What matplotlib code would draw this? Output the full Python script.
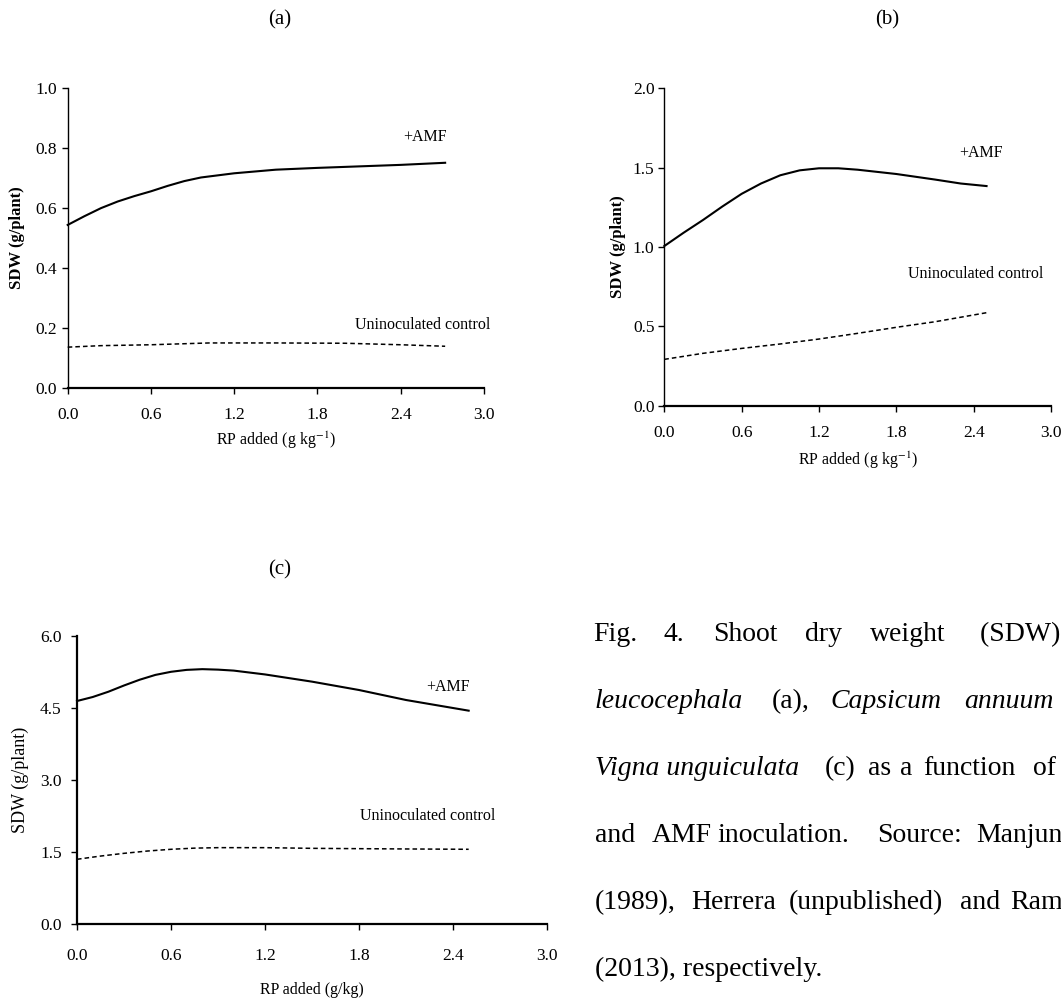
import matplotlib
matplotlib.use("Agg")
from matplotlib import pyplot as plt

plt.rcParams['font.family'] = ['Liberation Serif', 'DejaVu Serif']
plt.rcParams['mathtext.fontset'] = 'stix'

W, H = 1061, 1001

# panel (a) Leucaena leucocephala
a_x_amf = [0.0, 0.12, 0.24, 0.36, 0.48, 0.6, 0.72, 0.84, 0.96, 1.2, 1.5, 1.8, 2.1, 2.4, 2.72]
a_y_amf = [0.543, 0.572, 0.599, 0.621, 0.639, 0.655, 0.673, 0.689, 0.701, 0.715, 0.727, 0.733, 0.738, 0.743, 0.750]
a_x_ctl = [0.0, 0.24, 0.6, 1.02, 1.5, 2.0, 2.4, 2.72]
a_y_ctl = [0.136, 0.141, 0.144, 0.150, 0.150, 0.149, 0.144, 0.139]

# panel (b) Capsicum annuum
b_x_amf = [0.0, 0.15, 0.3, 0.45, 0.6, 0.75, 0.9, 1.05, 1.2, 1.35, 1.5, 1.8, 2.1, 2.3, 2.5]
b_y_amf = [1.006, 1.09, 1.17, 1.255, 1.335, 1.40, 1.452, 1.483, 1.496, 1.496, 1.487, 1.46, 1.425, 1.40, 1.384]
b_x_ctl = [0.0, 0.3, 0.6, 0.9, 1.2, 1.5, 1.8, 2.1, 2.5]
b_y_ctl = [0.292, 0.330, 0.361, 0.389, 0.420, 0.456, 0.494, 0.529, 0.586]

# panel (c) Vigna unguiculata
c_x_amf = [0.0, 0.1, 0.2, 0.3, 0.4, 0.5, 0.6, 0.7, 0.8, 0.9, 1.0, 1.2, 1.5, 1.8, 2.1, 2.5]
c_y_amf = [4.647, 4.73, 4.84, 4.97, 5.09, 5.19, 5.255, 5.295, 5.31, 5.30, 5.28, 5.20, 5.05, 4.876, 4.668, 4.446]
c_x_ctl = [0.0, 0.15, 0.3, 0.45, 0.6, 0.75, 0.9, 1.2, 1.5, 1.8, 2.1, 2.5]
c_y_ctl = [1.353, 1.42, 1.477, 1.525, 1.561, 1.585, 1.595, 1.595, 1.581, 1.574, 1.568, 1.561]

x_ticks = [0.0, 0.6, 1.2, 1.8, 2.4, 3.0]


def px_axes(fig, left, right, top, bottom):
    return fig.add_axes([left / W, 1 - bottom / H, (right - left) / W, (bottom - top) / H])


def style(ax, ymax, ystep, xlab, ylpad, xlpad, ylab_x, xlab_y, ybold):
    ax.set_xlim(0, 3.0)
    ax.set_ylim(0, ymax)
    ax.set_xticks(x_ticks)
    ax.set_xticklabels([f'{t:.1f}' for t in x_ticks])
    yt = [i * ystep for i in range(int(round(ymax / ystep)) + 1)]
    ax.set_yticks(yt)
    ax.set_yticklabels([f'{t:.1f}' for t in yt])
    ax.spines['top'].set_visible(False)
    ax.spines['right'].set_visible(False)
    ax.spines['left'].set_linewidth(1.0)
    ax.spines['bottom'].set_linewidth(1.6)
    ax.tick_params(axis='x', direction='out', length=4, width=1, labelsize=12.5, pad=xlpad)
    ax.tick_params(axis='y', direction='out', length=4, width=1, labelsize=12.5, pad=ylpad)
    if ybold:
        ax.set_ylabel('SDW (g/plant)', fontsize=12, fontweight='bold', va='center')
    else:
        ax.set_ylabel('SDW (g/plant)', fontsize=13, va='center')
    ax.yaxis.set_label_coords(ylab_x, 0.5)
    ax.set_xlabel(xlab, fontsize=11.5, va='center')
    ax.xaxis.set_label_coords(0.5, xlab_y)


fig = plt.figure(figsize=(W / 100, H / 100), dpi=100)

dash = (0, (3, 2))

ax1 = px_axes(fig, 67.7, 484, 87.7, 388)
ax1.plot(a_x_amf, a_y_amf, color='black', lw=1.5, clip_on=False)
ax1.plot(a_x_ctl, a_y_ctl, color='black', lw=1.1, linestyle=dash, clip_on=False)
ax1.text(2.575, 0.835, '+AMF', fontsize=11.5, ha='center', va='center')
ax1.text(2.558, 0.21, 'Uninoculated control', fontsize=11.5, ha='center', va='center')
style(ax1, 1.0, 0.2, r'RP added (g kg$^{-1}$)', 4, 10, -0.122, -0.1755, True)

ax2 = px_axes(fig, 664.3, 1051, 88.3, 405.7)
ax2.plot(b_x_amf, b_y_amf, color='black', lw=1.5, clip_on=False)
ax2.plot(b_x_ctl, b_y_ctl, color='black', lw=1.1, linestyle=dash, clip_on=False)
ax2.text(2.454, 1.59, '+AMF', fontsize=11.5, ha='center', va='center')
ax2.text(2.416, 0.828, 'Uninoculated control', fontsize=11.5, ha='center', va='center')
style(ax2, 2.0, 0.5, r'RP added (g kg$^{-1}$)', 3, 10, -0.12, -0.171, True)

ax3 = px_axes(fig, 77, 547, 636, 924.3)
ax3.plot(c_x_amf, c_y_amf, color='black', lw=1.5, clip_on=False)
ax3.plot(c_x_ctl, c_y_ctl, color='black', lw=1.1, linestyle=dash, clip_on=False)
ax3.text(2.368, 4.93, '+AMF', fontsize=11.5, ha='center', va='center')
ax3.text(2.24, 2.254, 'Uninoculated control', fontsize=11.5, ha='center', va='center')
style(ax3, 6.0, 1.5, 'RP added (g/kg)', 7, 13, -0.121, -0.228, False)
ax3.spines['left'].set_linewidth(1.6)

# panel letters
for (px, py, s) in [(280, 20, '(a)'), (887, 20, '(b)'), (280, 570, '(c)')]:
    fig.text(px / W, 1 - py / H, s, fontsize=15, ha='center', va='center')

# caption, justified word by word (runs off the right edge like the source page)
caption = [
    (641, [(593, 'Fig.', 'normal'), (664, '4.', 'normal'), (712.7, 'Shoot', 'normal'),
           (805, 'dry', 'normal'), (870, 'weight', 'normal'), (980, '(SDW) of', 'normal')]),
    (708, [(595, 'leucocephala', 'italic'), (771.7, '(a),', 'normal'), (830, 'Capsicum', 'italic'),
           (964, 'annuum', 'italic')]),
    (775, [(595, 'Vigna unguiculata', 'italic'), (825, '(c)', 'normal'), (868, 'as', 'normal'),
           (900, 'a', 'normal'), (923, 'function', 'normal'), (1033, 'of RP', 'normal')]),
    (842, [(595, 'and', 'normal'), (651.7, 'AMF', 'normal'), (717, 'inoculation.', 'normal'),
           (876.7, 'Source:', 'normal'), (976.7, 'Manjunath', 'normal')]),
    (909, [(595, '(1989),', 'normal'), (691.7, 'Herrera', 'normal'), (789, '(unpublished)', 'normal'),
           (960, 'and', 'normal'), (1010, 'Ramírez', 'normal')]),
    (976, [(595, '(2013), respectively.', 'normal')]),
]
for base, words in caption:
    for px, w, st in words:
        fig.text(px / W, 1 - base / H, w, fontsize=20, style=st, ha='left', va='baseline')

fig.savefig('out.png', dpi=100)
